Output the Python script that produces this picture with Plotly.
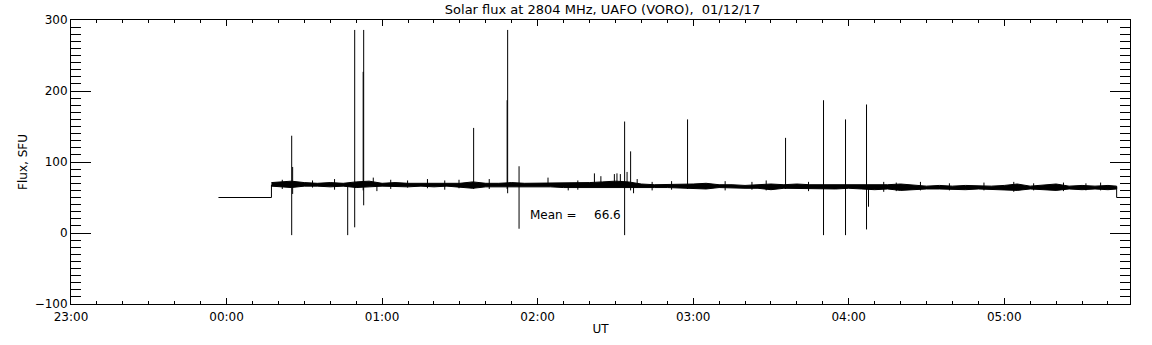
import plotly.graph_objects as go

# ---------------- data ----------------
title_text = "Solar flux at 2804 MHz, UAFO (VORO),\u00a0\u00a001/12/17"
day_before = "2017-11-30"
day_of = "2017-12-01"
mean_value = 66.6

# flat pre-observation level and final drop
flat_times = ["23:56:53", "00:17:19", "00:17:19"]
flat_vals = [50, 50, 68]
end_times = ["05:43:21", "05:43:21", "05:45:50"]
end_vals = [65, 50, 50]

# noise band envelope of the quiet-sun signal
band_times = ["00:17:19", "00:20", "00:25", "00:30", "00:35", "00:40", "00:45", "00:50",
              "00:55", "01:00", "01:05", "01:10", "01:15", "01:20", "01:25", "01:30",
              "01:35", "01:40", "01:45", "01:50", "01:55", "02:00", "02:05", "02:10",
              "02:15", "02:20", "02:25", "02:30", "02:35", "02:40", "02:45", "02:50",
              "02:55", "03:00", "03:05", "03:10", "03:15", "03:20", "03:25", "03:30",
              "03:35", "03:40", "03:45", "03:50", "03:55", "04:00", "04:05", "04:10",
              "04:15", "04:20", "04:25", "04:30", "04:35", "04:40", "04:45", "04:50",
              "04:55", "05:00", "05:05", "05:10", "05:15", "05:20", "05:25", "05:30",
              "05:35", "05:40", "05:43:21"]
band_lo = [66, 65, 64, 66, 66, 65, 66, 64,
           65, 66, 66, 65, 66, 65, 66, 65,
           63, 65, 65, 65, 65, 65, 65, 64,
           64, 64, 63, 63, 63, 64, 64, 64,
           64, 63, 62, 64, 63, 63, 63, 61,
           63, 62, 63, 62, 62, 63, 62, 61,
           62, 60, 61, 62, 62, 62, 61, 62,
           62, 61, 60, 62, 61, 60, 62, 61,
           62, 61, 62]
band_hi = [71, 72, 73, 71, 70, 71, 70, 72,
           73, 70, 71, 70, 70, 71, 70, 70,
           72, 70, 70, 71, 70, 70, 70, 70,
           70, 71, 72, 73, 72, 69, 68, 68,
           68, 69, 70, 68, 68, 67, 68, 69,
           68, 69, 68, 68, 68, 68, 68, 67,
           68, 69, 68, 66, 67, 66, 67, 66,
           66, 67, 69, 66, 67, 69, 66, 67,
           66, 67, 66]

# interference spikes and noise excursions: time, bottom, top
spike_times = ["00:25:08", "00:25:30", "00:46:44", "00:49:26", "00:52:42", "00:52:54",
               "00:56:36", "00:58:00", "01:35:19", "01:48:14", "01:48:26", "01:52:50",
               "02:04:00", "02:11:48", "02:21:54", "02:24:24", "02:29:36", "02:30:36",
               "02:31:54", "02:33:33", "02:34:30", "02:35:52", "02:37:00", "02:38:24",
               "02:57:50", "03:35:38", "03:50:17", "03:58:46", "04:06:52", "04:07:38",
               "00:21:30", "00:33:10", "00:41:40", "01:03:20", "01:09:50", "01:17:30",
               "01:24:10", "01:29:40", "01:41:20", "02:15:30", "02:44:10", "02:51:40",
               "03:12:20", "03:22:40", "03:28:10", "03:44:30", "04:13:30", "04:18:20",
               "04:27:40", "04:38:50", "04:52:10", "05:03:40", "05:11:20", "05:22:50",
               "05:31:30", "05:37:10"]
spike_lo = [-3, 55, -3, 8, 60, 39,
            66, 59, 62, 62, 56, 6,
            66, 60, 66, 66, 66, 66,
            66, -3, 66, 60, 56, 64,
            62, 62, -3, -3, 5, 37,
            62, 64, 61, 62, 64, 63,
            61, 63, 62, 61, 60, 61,
            60, 61, 60, 59, 58, 59,
            60, 60, 60, 58, 60, 59,
            60, 60]
spike_hi = [137, 93, 66, 286, 227, 286,
            78, 70, 148, 187, 286, 94,
            78, 70, 84, 80, 83, 84,
            83, 157, 86, 115, 68, 76,
            160, 134, 187, 160, 181, 62,
            75, 74, 76, 75, 74, 76,
            74, 75, 76, 74, 72, 73,
            73, 72, 74, 72, 72, 71,
            72, 70, 71, 72, 70, 71,
            70, 71]

x_range = ["23:00", "05:48:30"]
mean_label_time = "01:56:25"
mean_value_time = "02:20:59"
mean_label_y = 25


def stamp(t):
    day = day_before if t >= "12:00" else day_of
    if len(t) == 5:
        t = t + ":00"
    return f"{day} {t}"


fig = go.Figure()

# flat start + step
fig.add_trace(go.Scatter(x=[stamp(t) for t in flat_times], y=flat_vals, mode="lines",
                         line=dict(color="black", width=1), hoverinfo="skip"))
fig.add_trace(go.Scatter(x=[stamp(t) for t in end_times], y=end_vals, mode="lines",
                         line=dict(color="black", width=1), hoverinfo="skip"))

# noise band
bx = [stamp(t) for t in band_times]
fig.add_trace(go.Scatter(x=bx + bx[::-1], y=band_hi + band_lo[::-1], mode="lines",
                         fill="toself", fillcolor="black",
                         line=dict(color="black", width=1), hoverinfo="skip"))

# spikes
sx, sy = [], []
for t, lo, hi in zip(spike_times, spike_lo, spike_hi):
    sx += [stamp(t), stamp(t), None]
    sy += [lo, hi, None]
fig.add_trace(go.Scatter(x=sx, y=sy, mode="lines", line=dict(color="black", width=1),
                         hoverinfo="skip"))

font = "DejaVu Sans"
fig.add_annotation(x=stamp(mean_label_time), y=mean_label_y, text="Mean =", showarrow=False,
                   xanchor="left", yanchor="middle", font=dict(family=font, size=12, color="black"))
fig.add_annotation(x=stamp(mean_value_time), y=mean_label_y, text=f"{mean_value:.1f}",
                   showarrow=False, xanchor="left", yanchor="middle",
                   font=dict(family=font, size=12, color="black"))

fig.update_layout(
    width=1152, height=345,
    margin=dict(l=71, r=22, t=20, b=41, autoexpand=False),
    paper_bgcolor="white", plot_bgcolor="white",
    showlegend=False, hovermode=False,
    font=dict(family=font, size=12, color="black"),
    title=dict(text=title_text, x=0.523, xanchor="center", y=0.974, yanchor="middle",
               font=dict(family=font, size=13, color="black")),
)
fig.update_xaxes(
    type="date", range=[stamp(x_range[0]), stamp(x_range[1])], automargin=False,
    tick0=stamp("23:00"), dtick=3600000, tickformat="%H:%M",
    ticks="inside", ticklen=6, tickwidth=1, tickcolor="black",
    showline=True, linecolor="black", linewidth=1, mirror="ticks",
    showgrid=False, zeroline=False, ticklabelstandoff=2,
    minor=dict(dtick=600000, ticks="inside", ticklen=3, tickcolor="black", showgrid=False),
    title=dict(text="UT", standoff=1, font=dict(family=font, size=12)),
    tickfont=dict(family=font, size=12),
)
fig.update_yaxes(
    range=[-100, 300], dtick=100, automargin=False,
    ticks="inside", ticklen=20, tickwidth=1, tickcolor="black",
    showline=True, linecolor="black", linewidth=1,
    mirror="ticks", showgrid=False, zeroline=False,
    minor=dict(dtick=10, ticks="inside", ticklen=10, tickcolor="black", showgrid=False),
    title=dict(text="Flux, SFU", standoff=4, font=dict(family=font, size=12)),
    tickfont=dict(family=font, size=12),
)

fig.write_html("out.html", config={"displayModeBar": False},
               post_script="document.body.style.margin='0px';")
